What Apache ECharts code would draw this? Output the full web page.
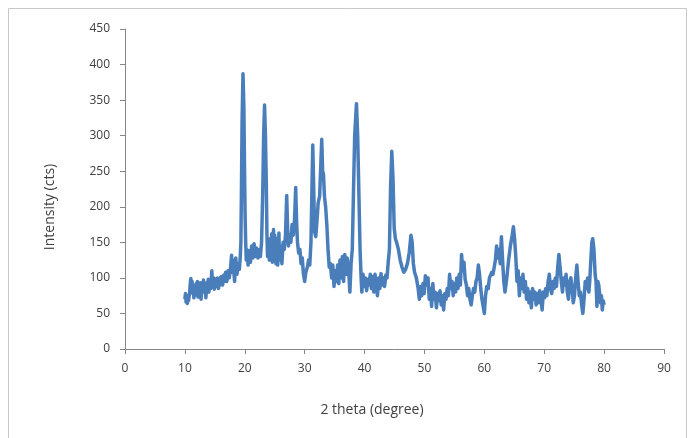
<!DOCTYPE html>
<html>
<head>
<meta charset="utf-8">
<script src="https://cdn.jsdelivr.net/npm/echarts@6/dist/echarts.min.js"></script>
<style>
    html, body { margin: 0; padding: 0; background: #fff; }
    #chart { width: 690px; height: 438px; }
</style>
</head>
<body>
<div id="chart"></div>
<script>
// 2 theta (degree)
var theta = [
    10.0, 10.1, 10.2, 10.3, 10.4, 10.5, 10.6, 10.8, 10.9, 11.0, 11.1, 11.2, 11.3, 11.4, 11.5, 11.6, 11.8, 11.9,
    12.0, 12.1, 12.2, 12.4, 12.5, 12.6, 12.7, 12.9, 13.0, 13.1, 13.2, 13.4, 13.5, 13.7, 13.8, 13.9,
    14.0, 14.2, 14.3, 14.5, 14.6, 14.8, 14.9, 15.1, 15.3, 15.4, 15.6, 15.8, 15.9, 16.1, 16.3, 16.5,
    16.6, 16.8, 17.0, 17.2, 17.4, 17.6, 17.8, 17.9, 18.0, 18.3, 18.5, 18.7, 18.9, 19.1, 19.25, 19.35,
    19.45, 19.55, 19.7, 19.85, 19.95, 20.05, 20.15, 20.25, 20.35, 20.55, 20.75, 20.95, 21.15, 21.35, 21.55, 21.75,
    21.95, 22.2, 22.4, 22.6, 22.8, 23.0, 23.15, 23.3, 23.45, 23.6, 23.7, 23.8, 24.0, 24.1, 24.2, 24.3,
    24.5, 24.6, 24.8, 24.9, 25.0, 25.2, 25.3, 25.5, 25.7, 25.8, 26.0, 26.2, 26.4, 26.6, 26.8, 27.0,
    27.15, 27.3, 27.5, 27.7, 27.9, 28.1, 28.3, 28.5, 28.65, 28.8, 29.0, 29.2, 29.4, 29.6, 29.8, 30.0,
    30.2, 30.45, 30.65, 30.85, 31.05, 31.25, 31.35, 31.5, 31.65, 31.85, 32.05, 32.25, 32.5, 32.7, 32.85, 33.0,
    33.15, 33.3, 33.5, 33.7, 33.9, 34.1, 34.3, 34.5, 34.7, 34.9, 35.1, 35.3, 35.5, 35.7, 35.9, 36.1,
    36.3, 36.5, 36.7, 36.9, 37.1, 37.35, 37.55, 37.75, 37.95, 38.15, 38.35, 38.65, 38.85, 39.05, 39.25, 39.45,
    39.55, 39.75, 39.95, 40.15, 40.35, 40.55, 40.75, 40.95, 41.15, 41.35, 41.55, 41.75, 41.95, 42.15, 42.35, 42.55,
    42.75, 42.95, 43.15, 43.35, 43.55, 43.75, 43.95, 44.15, 44.35, 44.55, 44.75, 44.95, 45.15, 45.35, 45.65, 45.95,
    46.25, 46.55, 46.85, 47.15, 47.45, 47.75, 47.95, 48.15, 48.35, 48.65, 48.95, 49.15, 49.35, 49.55, 49.75, 49.95,
    50.15, 50.35, 50.6, 50.8, 51.0, 51.2, 51.4, 51.6, 51.8, 52.0, 52.2, 52.4, 52.6, 52.8, 53.0, 53.2,
    53.4, 53.6, 53.8, 54.0, 54.2, 54.4, 54.6, 54.8, 55.0, 55.2, 55.4, 55.6, 55.8, 56.0, 56.2, 56.4,
    56.6, 56.8, 57.0, 57.2, 57.4, 57.6, 57.8, 58.0, 58.2, 58.4, 58.6, 58.8, 59.0, 59.2, 59.4, 59.6,
    59.8, 60.0, 60.2, 60.4, 60.65, 60.85, 61.05, 61.25, 61.45, 61.65, 61.85, 62.05, 62.25, 62.45, 62.65, 62.85,
    63.05, 63.25, 63.45, 63.75, 64.05, 64.35, 64.65, 64.85, 65.05, 65.25, 65.45, 65.65, 65.85, 66.05, 66.25, 66.45,
    66.65, 66.85, 67.05, 67.25, 67.45, 67.65, 67.85, 68.05, 68.25, 68.45, 68.65, 68.85, 69.05, 69.25, 69.45, 69.65,
    69.85, 70.05, 70.25, 70.45, 70.65, 70.85, 71.05, 71.25, 71.45, 71.65, 71.85, 72.05, 72.25, 72.45, 72.65, 72.85,
    73.05, 73.25, 73.45, 73.65, 73.85, 74.05, 74.25, 74.45, 74.65, 74.85, 75.05, 75.25, 75.45, 75.65, 75.85, 76.05,
    76.25, 76.45, 76.65, 76.85, 77.05, 77.25, 77.45, 77.6, 77.75, 77.95, 78.1, 78.3, 78.5, 78.65, 78.8, 78.95,
    79.1, 79.25, 79.4, 79.55, 79.7, 79.85, 80.0
];

// Intensity (cts)
var intensity = [
    70, 78, 66, 75, 64, 72, 68, 80, 92, 99, 85, 95, 78, 90, 72, 88, 76, 92,
    82, 95, 73, 88, 80, 93, 70, 90, 84, 97, 80, 92, 72, 94, 85, 98,
    80, 95, 85, 110, 88, 100, 84, 98, 88, 100, 85, 100, 90, 102, 90, 104,
    95, 108, 95, 110, 100, 112, 132, 108, 125, 95, 128, 105, 120, 112, 130, 150,
    230, 320, 387, 340, 260, 190, 150, 125, 140, 118, 138, 122, 145, 128, 148, 130,
    142, 128, 140, 130, 150, 220, 300, 343, 300, 230, 160, 130, 150, 125, 155, 128,
    162, 122, 168, 125, 160, 120, 155, 118, 163, 125, 145, 120, 150, 140, 160, 216,
    170, 145, 160, 150, 175, 160, 180, 227, 180, 150, 135, 140, 120, 128, 105, 95,
    108, 115, 125, 118, 150, 240, 287, 230, 165, 158, 180, 205, 215, 260, 295, 250,
    245, 215, 200, 175, 140, 115, 120, 100, 118, 88, 110, 95, 118, 92, 125, 100,
    130, 95, 133, 105, 128, 110, 80, 120, 140, 220, 300, 345, 300, 220, 140, 95,
    80, 105, 88, 100, 82, 98, 90, 105, 85, 102, 80, 105, 90, 75, 100, 85,
    106, 90, 100, 88, 104, 100, 122, 140, 230, 278, 240, 170, 155, 150, 140, 125,
    115, 108, 112, 120, 135, 160, 150, 120, 108, 100, 85, 70, 88, 75, 92, 78,
    103, 90, 100, 70, 85, 60, 92, 70, 80, 58, 78, 68, 82, 62, 75, 55,
    78, 70, 85, 75, 105, 85, 95, 75, 92, 80, 100, 85, 105, 90, 133, 110,
    122, 98, 90, 75, 85, 70, 62, 75, 85, 80, 95, 100, 118, 105, 85, 70,
    60, 50, 75, 88, 85, 100, 98, 108, 105, 115, 125, 145, 128, 140, 120, 158,
    125, 95, 80, 100, 125, 145, 160, 172, 155, 130, 95, 110, 75, 100, 85, 105,
    80, 95, 70, 85, 65, 80, 58, 85, 70, 80, 62, 78, 65, 82, 70, 55,
    80, 72, 85, 75, 95, 105, 85, 78, 95, 85, 100, 88, 115, 133, 115, 95,
    80, 100, 90, 105, 80, 70, 95, 100, 85, 65, 75, 100, 118, 95, 75, 80,
    62, 50, 70, 95, 85, 100, 80, 95, 120, 150, 155, 140, 105, 95, 60, 95,
    90, 92, 65, 75, 55, 68, 62
];

var xTicks = { min: 0, max: 90, interval: 10 };
var yTicks = { min: 0, max: 450, interval: 50 };

var chart = echarts.init(document.getElementById('chart'));

var seriesData = theta.map(function (t, i) {
    return [t, intensity[i]];
});

var axisColor = '#868686';
var labelColor = '#404040';
var fontFamily = '"Open Sans", sans-serif';

var option = {
    backgroundColor: '#fff',
    animation: false,
    grid: {
        left: 125,
        right: 26,
        top: 29,
        bottom: 89
    },
    xAxis: {
        type: 'value',
        min: xTicks.min,
        max: xTicks.max,
        interval: xTicks.interval,
        axisLine: { lineStyle: { color: axisColor, width: 1 } },
        axisTick: { show: true, inside: false, length: 5, lineStyle: { color: axisColor } },
        axisLabel: { color: labelColor, fontSize: 12, fontFamily: fontFamily, margin: 14 },
        splitLine: { show: false }
    },
    yAxis: {
        type: 'value',
        min: yTicks.min,
        max: yTicks.max,
        interval: yTicks.interval,
        axisLine: { show: true, lineStyle: { color: axisColor, width: 1 } },
        axisTick: { show: true, inside: false, length: 5, lineStyle: { color: axisColor } },
        axisLabel: { color: labelColor, fontSize: 12, fontFamily: fontFamily, margin: 15 },
        splitLine: { show: false }
    },
    graphic: [
        {
            type: 'rect',
            shape: { x: 8.5, y: 8.5, width: 678, height: 440 },
            style: { fill: 'none', stroke: '#c8c8c8', lineWidth: 1 },
            silent: true
        },
        {
            type: 'text',
            x: 372,
            y: 410,
            style: {
                text: '2 theta (degree)',
                fill: labelColor,
                font: '14px ' + fontFamily,
                align: 'center',
                verticalAlign: 'middle'
            }
        },
        {
            type: 'text',
            x: 50,
            y: 207,
            rotation: Math.PI / 2,
            style: {
                text: 'Intensity (cts)',
                fill: labelColor,
                font: '14px ' + fontFamily,
                align: 'center',
                verticalAlign: 'middle'
            }
        }
    ],
    series: [
        {
            name: 'XRD',
            type: 'line',
            data: seriesData,
            showSymbol: false,
            symbol: 'none',
            lineStyle: { color: '#4a7ebb', width: 3.5, join: 'round' },
            itemStyle: { color: '#4a7ebb' }
        }
    ]
};

chart.setOption(option);
</script>
</body>
</html>
